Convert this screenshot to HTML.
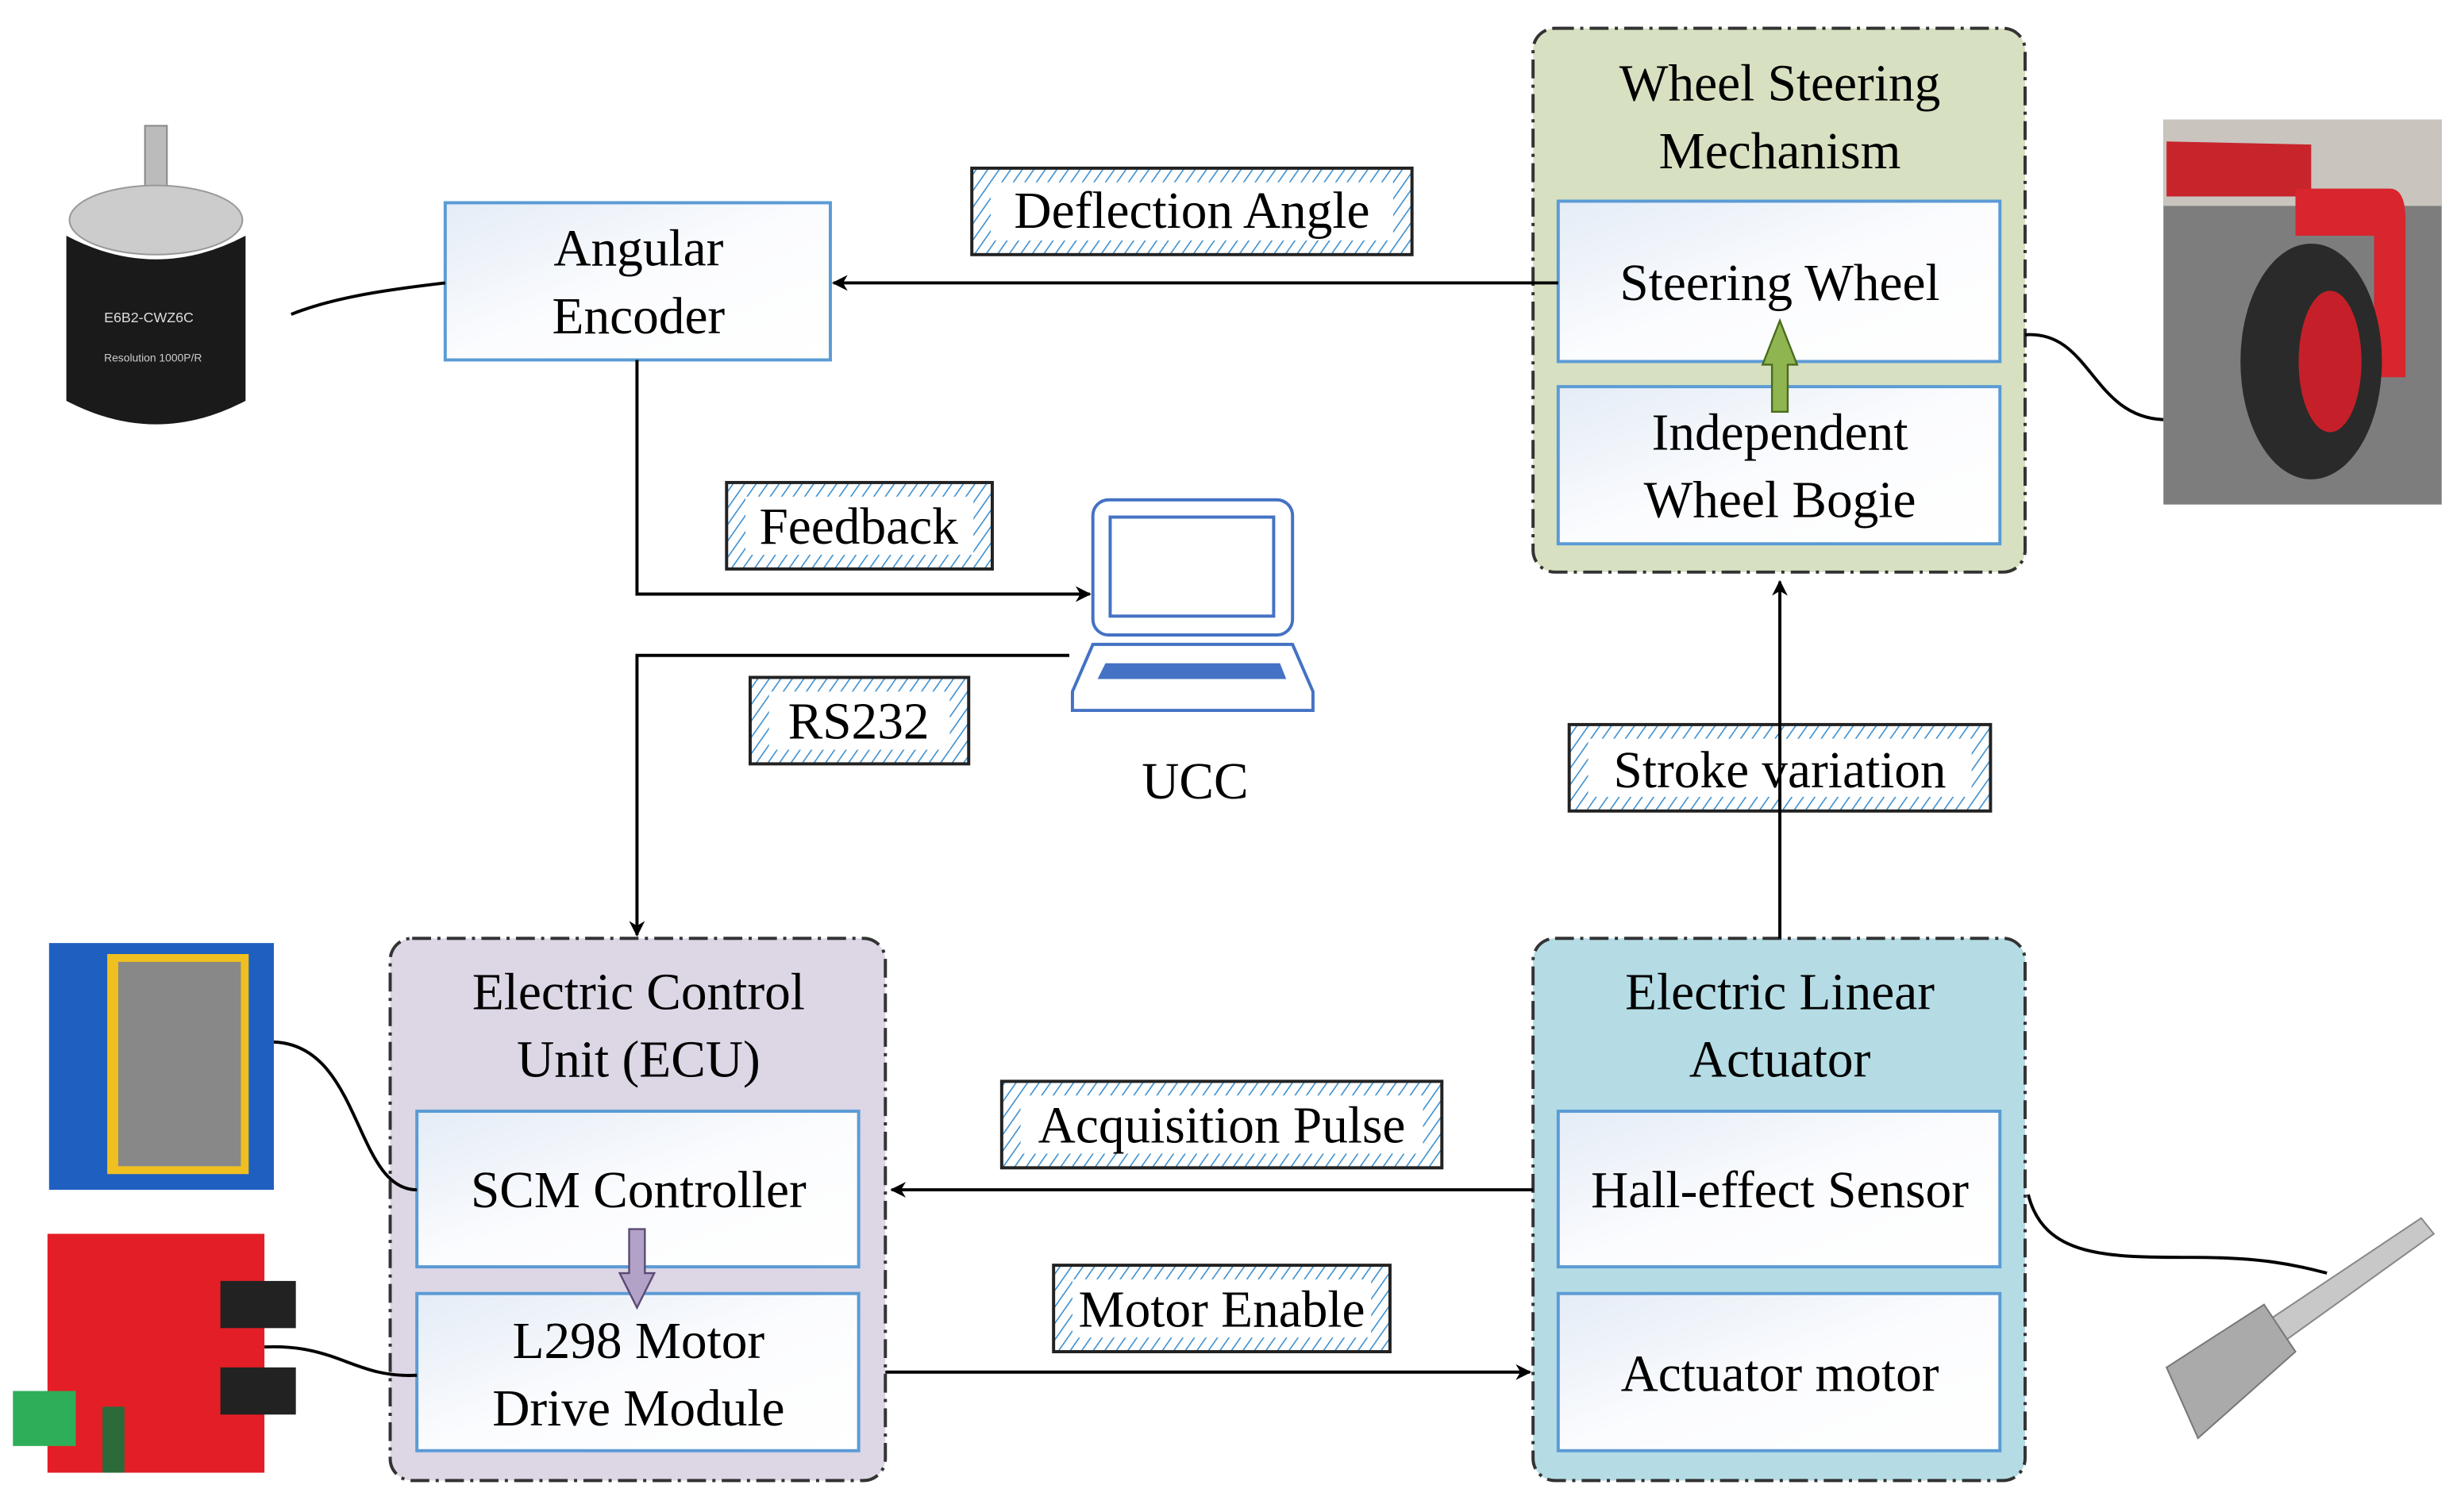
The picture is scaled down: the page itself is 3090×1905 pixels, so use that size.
<!DOCTYPE html>
<html><head><meta charset="utf-8"><style>html,body{margin:0;padding:0;background:#fff}svg{display:block}</style></head>
<body>
<svg width="3090" height="1905" viewBox="0 0 1560 962" xmlns="http://www.w3.org/2000/svg" font-family="'Liberation Serif', serif">
<defs>
<pattern id="h" width="6" height="6" patternUnits="userSpaceOnUse" patternTransform="rotate(35)">
<rect width="6" height="6" fill="#fff"/><line x1="0" y1="0" x2="0" y2="6" stroke="#3a8fd0" stroke-width="1.6"/></pattern>
<linearGradient id="g" x1="0" y1="0" x2="1" y2="1"><stop offset="0" stop-color="#e4ecf6"/><stop offset="0.5" stop-color="#fbfcfe"/><stop offset="1" stop-color="#ffffff"/></linearGradient>
<marker id="a" markerWidth="10" markerHeight="10" refX="9" refY="5" orient="auto" markerUnits="userSpaceOnUse"><path d="M0,0 L10,5 L0,10 L3,5 z" fill="#000"/></marker>
</defs>

<!-- groups -->
<rect x="975" y="18" width="313" height="346" rx="14" fill="#d7e1c2" stroke="#333" stroke-width="2" stroke-dasharray="12,4,2,4"/>
<rect x="248" y="597" width="315" height="345" rx="14" fill="#dcd6e5" stroke="#333" stroke-width="2" stroke-dasharray="12,4,2,4"/>
<rect x="975" y="597" width="313" height="345" rx="14" fill="#b5dce5" stroke="#333" stroke-width="2" stroke-dasharray="12,4,2,4"/>

<g fill="url(#g)" stroke="#5b9bd5" stroke-width="2">
<rect x="283" y="129" width="245" height="100"/>
<rect x="991" y="128" width="281" height="102"/>
<rect x="991" y="246" width="281" height="100"/>
<rect x="265" y="707" width="281" height="99"/>
<rect x="265" y="823" width="281" height="100"/>
<rect x="991" y="707" width="281" height="99"/>
<rect x="991" y="823" width="281" height="100"/>
</g>

<!-- hatched labels -->
<g stroke="#222" stroke-width="2" fill="url(#h)">
<rect x="618" y="107" width="280" height="55"/>
<rect x="462" y="307" width="169" height="55"/>
<rect x="477" y="431" width="139" height="55"/>
<rect x="998" y="461" width="268" height="55"/>
<rect x="637" y="688" width="280" height="55"/>
<rect x="670" y="805" width="214" height="55"/>
</g>
<g fill="#fff">
<rect x="630" y="116" width="256" height="37"/>
<rect x="474" y="316" width="145" height="37"/>
<rect x="489" y="440" width="115" height="37"/>
<rect x="1010" y="470" width="244" height="37"/>
<rect x="649" y="697" width="256" height="37"/>
<rect x="682" y="814" width="190" height="37"/>
</g>

<!-- connectors -->
<g stroke="#000" stroke-width="2" fill="none">
<line x1="991" y1="180" x2="530" y2="180" marker-end="url(#a)"/>
<polyline points="405,229 405,378 693,378" marker-end="url(#a)"/>
<polyline points="680,417 405,417 405,595" marker-end="url(#a)"/>
<line x1="1132" y1="597" x2="1132" y2="370" marker-end="url(#a)"/>
<line x1="975" y1="757" x2="567" y2="757" marker-end="url(#a)"/>
<line x1="563" y1="873" x2="973" y2="873" marker-end="url(#a)"/>
<path d="M283,180 C240,185 210,190 185,200"/>
<path d="M1288,213 C1330,210 1330,265 1376,267"/>
<path d="M174,663 C230,665 225,757 265,757"/>
<path d="M168,857 C215,855 225,877 265,875"/>
<path d="M1290,760 C1300,800 1340,800 1395,800 C1440,800 1460,805 1480,810"/>
</g>

<!-- block arrows -->
<path d="M1127,262 L1127,232 L1121,232 L1132,204 L1143,232 L1137,232 L1137,262 z" fill="#8fb550" stroke="#4a6b1e" stroke-width="1.2"/>
<path d="M400,782 L400,810 L394,810 L405,832 L416,810 L410,810 L410,782 z" fill="#b3a2c8" stroke="#5b4a72" stroke-width="1.2"/>

<!-- laptop -->
<rect x="695" y="318" width="127" height="86" rx="10" fill="#fff" stroke="#4472c4" stroke-width="2"/>
<rect x="706" y="329" width="104" height="63" fill="#fff" stroke="#4472c4" stroke-width="2"/>
<path d="M695,410 L822,410 L835,440 L835,452 L682,452 L682,440 z" fill="#fff" stroke="#4472c4" stroke-width="2"/>
<path d="M703,422 L814,422 L818,432 L698,432 z" fill="#4472c4"/>

<!-- text -->
<g font-size="33" fill="#000" text-anchor="middle">
<text x="1132" y="64">Wheel Steering</text>
<text x="1132" y="107">Mechanism</text>
<text x="1132" y="191">Steering Wheel</text>
<text x="1132" y="286">Independent</text>
<text x="1132" y="329">Wheel Bogie</text>
<text x="406" y="169">Angular</text>
<text x="406" y="212">Encoder</text>
<text x="758" y="145">Deflection Angle</text>
<text x="546" y="346">Feedback</text>
<text x="546" y="470">RS232</text>
<text x="760" y="508">UCC</text>
<text x="1132" y="501">Stroke variation</text>
<text x="406" y="642">Electric Control</text>
<text x="406" y="685">Unit (ECU)</text>
<text x="406" y="768">SCM Controller</text>
<text x="406" y="864">L298 Motor</text>
<text x="406" y="907">Drive Module</text>
<text x="1132" y="642">Electric Linear</text>
<text x="1132" y="685">Actuator</text>
<text x="1132" y="768">Hall-effect Sensor</text>
<text x="1132" y="885">Actuator motor</text>
<text x="777" y="727">Acquisition Pulse</text>
<text x="777" y="844">Motor Enable</text>
</g>

<!-- encoder photo -->
<rect x="92" y="80" width="14" height="50" fill="#bbb" stroke="#888"/>
<ellipse cx="99" cy="140" rx="55" ry="22" fill="#ccc" stroke="#999"/>
<path d="M42,150 L42,255 Q99,285 156,255 L156,150 Q99,180 42,150 z" fill="#1a1a1a"/>
<text x="66" y="205" font-size="9" fill="#ddd" font-family="'Liberation Sans',sans-serif">E6B2-CWZ6C</text>
<text x="66" y="230" font-size="7" fill="#ccc" font-family="'Liberation Sans',sans-serif">Resolution 1000P/R</text>

<!-- wheel photo -->
<rect x="1376" y="76" width="177" height="245" fill="#7d7d7d"/>
<rect x="1376" y="76" width="177" height="55" fill="#c9c4bd"/>
<path d="M1378,90 L1470,92 L1470,125 L1378,125 z" fill="#c8242c"/>
<path d="M1460,120 L1520,120 Q1530,120 1530,140 L1530,240 L1510,240 L1510,150 L1460,150 z" fill="#d8252e"/>
<ellipse cx="1470" cy="230" rx="45" ry="75" fill="#2a2a2a"/>
<ellipse cx="1482" cy="230" rx="20" ry="45" fill="#c52029"/>

<!-- STM board -->
<rect x="31" y="600" width="143" height="157" fill="#1f5fbf"/>
<rect x="68" y="607" width="90" height="140" fill="#f0c020"/>
<rect x="75" y="612" width="78" height="130" fill="#888"/>

<!-- red board -->
<rect x="30" y="785" width="138" height="152" fill="#e41e26"/>
<rect x="140" y="815" width="48" height="30" fill="#222"/>
<rect x="140" y="870" width="48" height="30" fill="#222"/>
<rect x="8" y="885" width="40" height="35" fill="#2fae5a"/>
<rect x="65" y="895" width="14" height="42" fill="#2c6a3a"/>

<!-- actuator -->
<path d="M1383,880 L1540,775 L1548,785 L1395,895 z" fill="#c8c8c8" stroke="#888"/>
<path d="M1378,870 L1440,830 L1460,860 L1398,915 z" fill="#aaa" stroke="#777"/>
</svg>
</body></html>
